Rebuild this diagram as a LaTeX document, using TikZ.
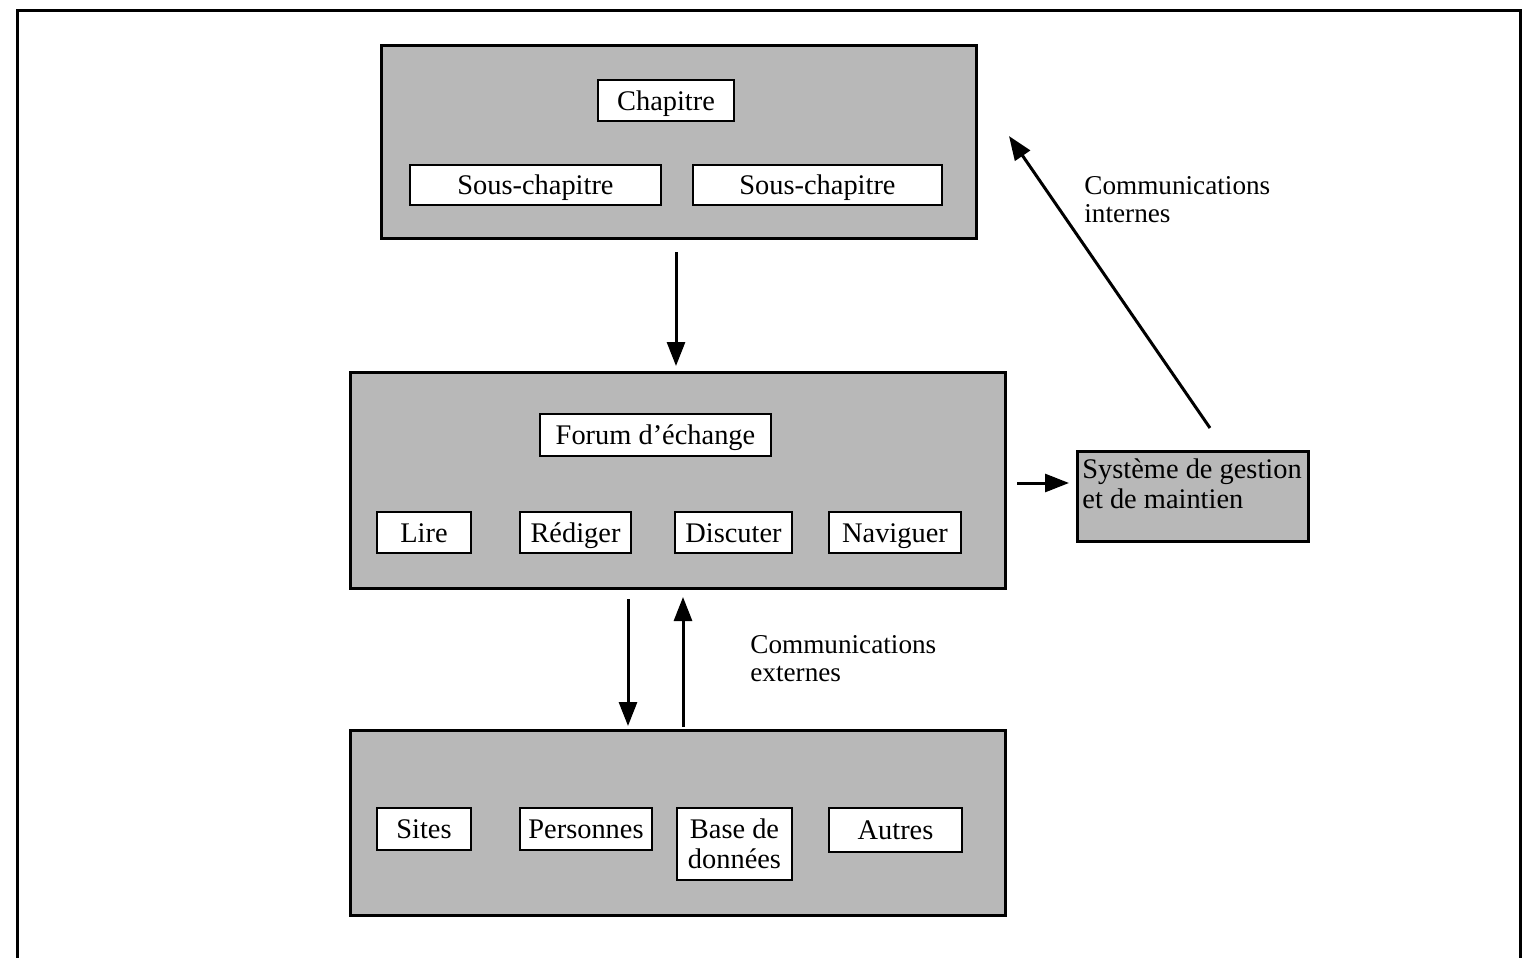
\documentclass[tikz,border=0pt]{standalone}
\usepackage{fontspec}
\setmainfont{Liberation Serif}
\usetikzlibrary{arrows.meta}
\begin{document}
\begin{tikzpicture}[x=0.5pt,y=-0.5pt,
  font=\fontsize{14.2}{15}\selectfont,
  outer/.style={draw,line width=1.5pt,fill=black!28,inner sep=0pt},
  inbox/.style={draw,line width=1.3pt,fill=white,inner sep=0pt,align=center},
  oneline/.style={text height=11pt,text depth=1.5pt},
  arr/.style={line width=1.5pt,-{Triangle[length=12pt,width=9pt]}},
  lbl/.style={align=left,inner sep=0pt,anchor=west,font=\fontsize{13.6}{14}\selectfont}]
\useasboundingbox (0,0) rectangle (1527,958);
\draw[line width=1.5pt] (17,970) -- (17,10) -- (1520,10) -- (1520,970);
% top box
\node[outer,minimum width=297.5pt,minimum height=96.5pt] (top) at (678.5,141.5) {};
\node[inbox,oneline,minimum width=68pt,minimum height=20.5pt] (chap) at (666,100.5) {Chapitre};
\node[inbox,oneline,minimum width=125.5pt,minimum height=20pt] (sc1) at (535.5,185) {Sous-chapitre};
\node[inbox,oneline,minimum width=124.5pt,minimum height=20pt] (sc2) at (817.5,185) {Sous-chapitre};
% middle box
\node[outer,minimum width=327.5pt,minimum height=108pt] (mid) at (677.5,480) {};
\node[inbox,oneline,minimum width=115.5pt,minimum height=21pt] (forum) at (655.5,435) {Forum d’échange};
\node[inbox,oneline,minimum width=47pt,minimum height=20.5pt] (lire) at (424,532.5) {Lire};
\node[inbox,oneline,minimum width=55.5pt,minimum height=20.5pt] (red) at (575.5,532.5) {Rédiger};
\node[inbox,oneline,minimum width=58.5pt,minimum height=20.5pt] (disc) at (733.5,532.5) {Discuter};
\node[inbox,oneline,minimum width=66pt,minimum height=20.5pt] (nav) at (895,532.5) {Naviguer};
% system box
\node[outer,minimum width=115.5pt,minimum height=45pt] (sys) at (1192.5,496) {};
\node[align=left,inner sep=0pt,anchor=north west] (systxt) at (1082,458) {Système de gestion\\et de maintien};
% bottom box
\node[outer,minimum width=327.5pt,minimum height=92.5pt] (bot) at (677.5,822.5) {};
\node[inbox,oneline,minimum width=47pt,minimum height=21pt] (sites) at (424,829) {Sites};
\node[inbox,oneline,minimum width=66pt,minimum height=21pt] (pers) at (586,829) {Personnes};
\node[inbox,minimum width=57.5pt,minimum height=36pt] (base) at (734.5,844) {Base de\\données};
\node[inbox,oneline,minimum width=66.5pt,minimum height=22pt] (autres) at (895.5,830) {Autres};
% labels
\node[lbl] (lint) at (1084,200) {Communications\\internes};
\node[lbl] (lext) at (750,659) {Communications\\externes};
% connector end points
\coordinate (a1s) at (676,252);
\coordinate (a1e) at (676,366);
\coordinate (a2s) at (1017,483);
\coordinate (a2e) at (1069,483);
\coordinate (a3s) at (1210,428);
\coordinate (a3e) at (1009,136);
\coordinate (a4s) at (628,599);
\coordinate (a4e) at (628,726);
\coordinate (a5s) at (683,727);
\coordinate (a5e) at (683,597);
\draw[arr] (a1s) -- (a1e);
\draw[arr] (a2s) -- (a2e);
\draw[arr] (a3s) -- (a3e);
\draw[arr] (a4s) -- (a4e);
\draw[arr] (a5s) -- (a5e);
\end{tikzpicture}
\end{document}
